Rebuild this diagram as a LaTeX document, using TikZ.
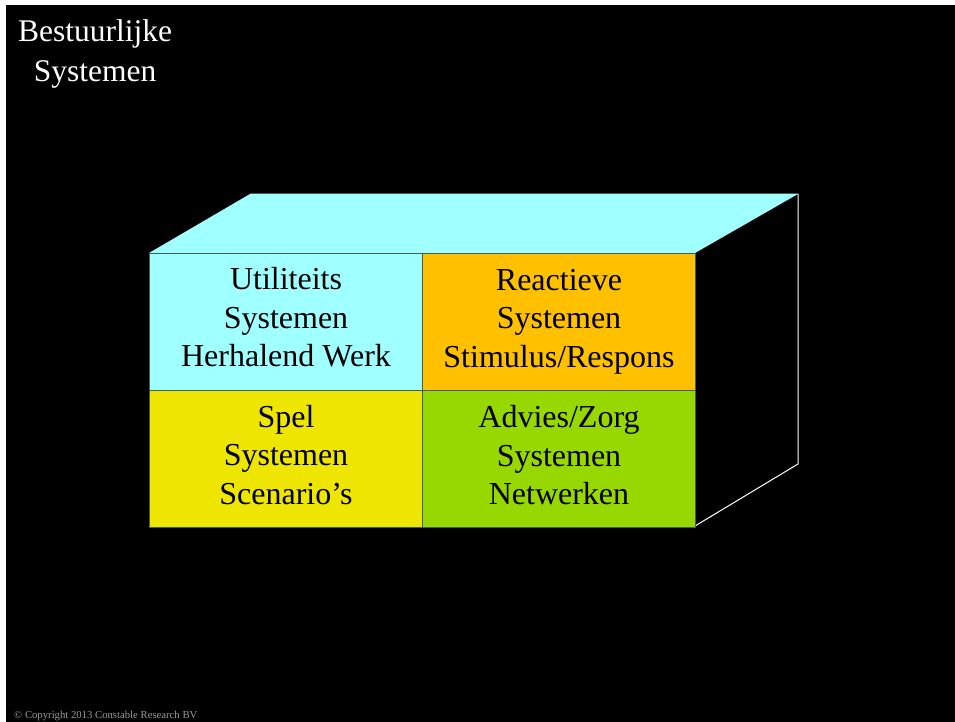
\documentclass[tikz,border=0pt]{standalone}
\usepackage{fontspec}
\setmainfont{Liberation Serif}
\definecolor{cyanf}{HTML}{A0FFFF}
\definecolor{orangef}{HTML}{FFC000}
\definecolor{yellowf}{HTML}{EEE600}
\definecolor{greenf}{HTML}{96D800}
\definecolor{edgec}{HTML}{3F5F50}
\tikzset{
  cell/.style={draw=edgec, line width=1pt, minimum width=273pt, minimum height=137pt, inner sep=0pt},
  celltext/.style={align=center, inner sep=0pt, font=\fontsize{32}{38.5}\selectfont, text=black},
  wtext/.style={text=white, align=center, inner sep=0pt}
}
\begin{document}
\begin{tikzpicture}[x=1pt,y=-1pt]
\useasboundingbox (0,0) rectangle (955,722);
\fill[white] (0,0) rectangle (955,722);
\fill[black] (6,5) rectangle (955,722);
% top face
\fill[cyanf] (149,253) -- (250,194) -- (798,194) -- (695,253) -- cycle;
\draw[edgec, line width=1pt] (250,194) -- (798,194);
% right face
\draw[white, line width=1pt] (798,194) -- (798,464) -- (695,526);
% cells
\node[cell, fill=cyanf, anchor=north west] (a) at (149,253) {};
\node[cell, fill=orangef, anchor=north west] (b) at (422,253) {};
\node[cell, fill=yellowf, anchor=north west] (c) at (149,390) {};
\node[cell, fill=greenf, anchor=north west] (d) at (422,390) {};
\node[celltext] (ta) at ([yshift=4.5pt]a.center) {Utiliteits\\Systemen\\Herhalend Werk};
\node[celltext] (tb) at ([yshift=0.5pt]b.center) {Reactieve\\Systemen\\Stimulus/Respons};
\node[celltext] (tc) at ([yshift=4pt]c.center) {Spel\\Systemen\\Scenario’s};
\node[celltext] (td) at ([yshift=3.5pt]d.center) {Advies/Zorg\\Systemen\\Netwerken};
\node[wtext, font=\fontsize{31.5}{40}\selectfont] (t) at (95,54) {Bestuurlijke\\Systemen};
\node[text=gray!80, inner sep=0pt, anchor=west, font=\fontsize{10.7}{12}\selectfont] (cp) at (14,716) {© Copyright 2013 Constable Research BV};
\end{tikzpicture}
\end{document}
